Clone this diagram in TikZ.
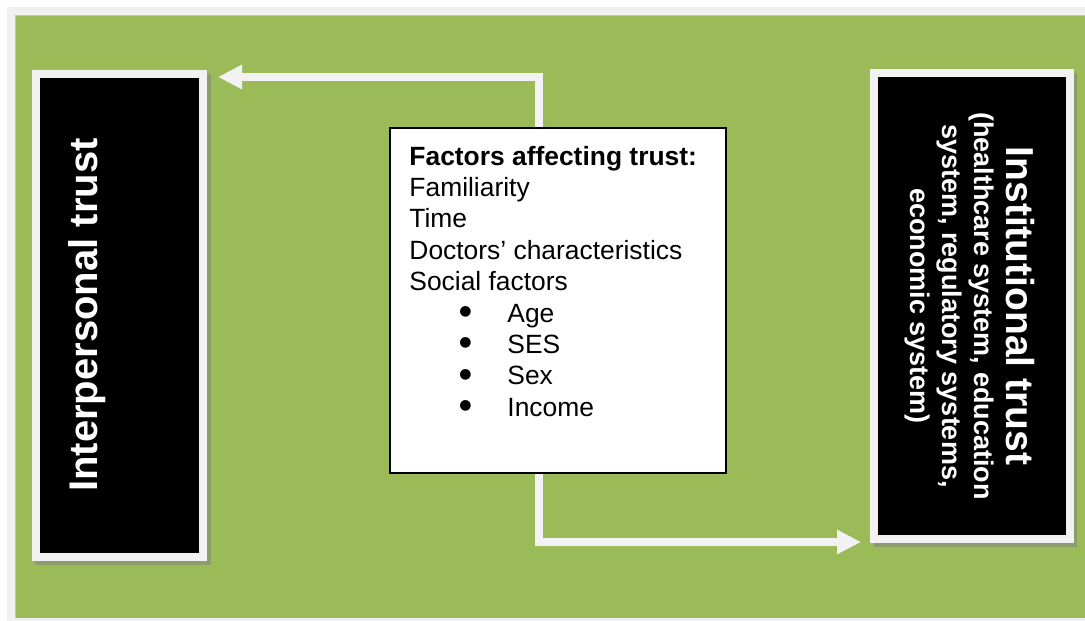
\documentclass[tikz,border=0pt]{standalone}
\usepackage{fontspec}
\setmainfont{Liberation Sans}
\newfontfamily\symbolfont{DejaVu Sans}
\usetikzlibrary{arrows.meta,shadows,calc}

\definecolor{leaf}{HTML}{9BBB59}
\definecolor{leafedge}{HTML}{BCD08F}
\definecolor{paper}{HTML}{F0F0F0}
\definecolor{framegray}{HTML}{F2F2F2}
\definecolor{shade}{HTML}{8C9C6C}

\newcommand{\listbullet}{\raisebox{6.5pt}{\symbolfont\fontsize{14}{31.4}\selectfont ●}}
\newcommand{\factoritem}[1]{\hspace*{56pt}\makebox[0pt]{\listbullet}\hspace*{42pt}#1}

\begin{document}
\begin{tikzpicture}[x=1pt,y=-1pt,
  trustbox/.style={draw=framegray, line width=8pt, fill=black, inner sep=0pt, outer sep=0pt,
    drop shadow={shadow xshift=3.5pt, shadow yshift=-4pt, fill=shade, draw=shade,
      line width=8pt, opacity=1}},
  trustlabel/.style={text=white, font=\bfseries, inner sep=0pt},
  factorbox/.style={draw=black, line width=1.5pt, fill=white, inner sep=0pt},
  flow/.style={draw=framegray, line width=7.5pt, line join=miter,
    -{Triangle[length=24pt,width=23pt]}},
]
% page, light border and green panel
\useasboundingbox (0,0) rectangle (1085,621);
\fill[white] (0,0) rectangle (1085,621);
\fill[paper] (7,7) rectangle (1085,621);
\fill[leaf] (15,15) rectangle (1085,618);
\draw[leafedge, line width=1pt] (15.5,618) -- (15.5,15.5) -- (1085,15.5);

% the two trust boxes
\node[trustbox, minimum width=167.5pt, minimum height=483pt] (interp) at (119.25,315.5) {};
\node[trustbox, minimum width=195.5pt, minimum height=466.5pt] (inst) at (971.75,305.75) {};

\node[trustlabel, rotate=90, font=\fontsize{40}{48}\selectfont\bfseries] (interptext) at (87,315)
  {Interpersonal trust};
\node[trustlabel, rotate=-90, align=center, font=\fontsize{27}{32}\selectfont\bfseries] (insttext)
  at (969.5,306)
  {{\fontsize{39}{32}\selectfont Institutional trust}\\
   (healthcare system, education\\
   system, regulatory systems,\\
   economic system)};

% central list of factors
\node[factorbox, minimum width=336pt, minimum height=345pt] (factors) at (558,300.5) {};
\node[anchor=north west, inner sep=0pt, align=left, font=\fontsize{26.4}{31.4}\selectfont]
  (factorstext) at ($(factors.north west)+(20,18.5)$)
  {{\bfseries Factors affecting trust:}\\
   Familiarity\\
   Time\\
   Doctors’ characteristics\\
   Social factors\\
   \factoritem{Age}\\
   \factoritem{SES}\\
   \factoritem{Sex}\\
   \factoritem{Income}};

% connectors
\coordinate (upturn) at (539,77);
\coordinate (downturn) at (539,542);
\draw[flow, shorten >=15pt] (upturn |- factors.north) -- (upturn) -- (interp.east |- upturn);
\draw[flow, shorten >=13pt] (downturn |- factors.south) -- (downturn) -- (inst.west |- downturn);
\end{tikzpicture}
\end{document}
